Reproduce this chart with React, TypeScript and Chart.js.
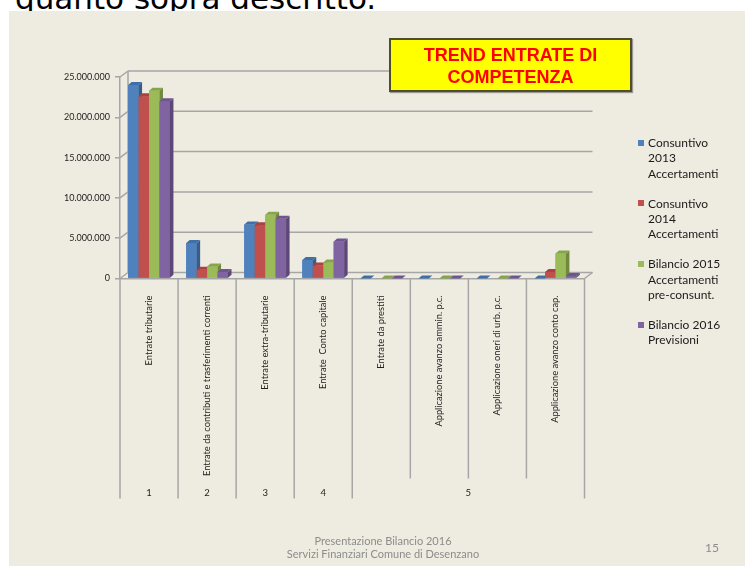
import React, { useEffect, useRef } from "react";
import { Chart, registerables } from "chart.js";

Chart.register(...registerables);

// ---------- DATA ----------
const categories = [
  "Entrate tributarie",
  "Entrate da contributi e trasferimenti correnti",
  "Entrate extra-tributarie",
  "Entrate  Conto capitale",
  "Entrate da prestiti",
  "Applicazione avanzo ammin. p.c.",
  "Applicazione oneri di urb. p.c.",
  "Applicazione avanzo conto cap.",
];
const groupLabels = ["1", "2", "3", "4", "5"];
const groupSpans = [1, 1, 1, 1, 4];

const consuntivo2013 = [24000000, 4400000, 6700000, 2300000, 0, 0, 0, 0];
const consuntivo2014 = [22600000, 1100000, 6600000, 1600000, null, null, null, 800000];
const bilancio2015 = [23300000, 1500000, 7900000, 2000000, 0, 0, 0, 3100000];
const bilancio2016 = [22000000, 800000, 7400000, 4600000, 0, 0, 0, 300000];

const yTicks = [0, 5000000, 10000000, 15000000, 20000000, 25000000];

const seriesLabels = [
  ["Consuntivo", "2013", "Accertamenti"],
  ["Consuntivo", "2014", "Accertamenti"],
  ["Bilancio 2015", "Accertamenti", "pre-consunt."],
  ["Bilancio 2016", "Previsioni"],
];
const seriesData = [consuntivo2013, consuntivo2014, bilancio2015, bilancio2016];
const frontColors = ["#4F81BD", "#C0504D", "#9BBB59", "#8064A2"];
const sideColors = ["#385D8A", "#8C3836", "#71893F", "#5C4776"];
const topColors = ["#3F6FA8", "#A94240", "#86A448", "#6E5590"];

const titleLines = ["TREND ENTRATE DI", "COMPETENZA"];
const footerLines = ["Presentazione Bilancio 2016", "Servizi Finanziari Comune di Desenzano"];
const pageNumber = "15";
const headerText = "quanto sopra descritto.";

// ---------- helpers ----------
const fmt = (v: number) => String(v).replace(/\B(?=(\d{3})+(?!\d))/g, ".");

const GRID = "#A6A6A6";
const DX = 8;
const DY = -6;

const frame3d = {
  id: "frame3d",
  beforeDatasetsDraw(chart: any) {
    const { ctx, chartArea } = chart;
    const { left, right, top, bottom } = chartArea;
    const y = chart.scales.y;
    ctx.save();
    ctx.strokeStyle = GRID;
    ctx.lineWidth = 1.5;
    const line = (a: number, b: number, c: number, d: number) => {
      ctx.beginPath();
      ctx.moveTo(a, b);
      ctx.lineTo(c, d);
      ctx.stroke();
    };
    for (const v of yTicks) {
      const py = y.getPixelForValue(v);
      line(left + DX, py + DY, right + DX, py + DY);
      line(left, py, left + DX, py + DY);
    }
    line(left + DX, top + DY, left + DX, bottom + DY);
    line(right, bottom, right + DX, bottom + DY);
    ctx.restore();
  },
  afterDatasetsDraw(chart: any) {
    const { ctx } = chart;
    const d = 3.5;
    const dy = -3;
    ctx.save();
    chart.data.datasets.forEach((ds: any, di: number) => {
      const meta = chart.getDatasetMeta(di);
      meta.data.forEach((el: any, i: number) => {
        const v = ds.data[i];
        if (v === null || v === undefined) return;
        const p = el.getProps(["x", "y", "base", "width"], true);
        const l = p.x - p.width / 2;
        const r = p.x + p.width / 2;
        // front face (re-painted so that later series overlap earlier sides)
        ctx.fillStyle = frontColors[di];
        ctx.fillRect(l, p.y, p.width, p.base - p.y);
        // right side
        ctx.fillStyle = sideColors[di];
        ctx.beginPath();
        ctx.moveTo(r, p.y);
        ctx.lineTo(r + d, p.y + dy);
        ctx.lineTo(r + d, p.base + dy);
        ctx.lineTo(r, p.base);
        ctx.closePath();
        ctx.fill();
        // top cap
        ctx.fillStyle = topColors[di];
        ctx.beginPath();
        ctx.moveTo(l, p.y);
        ctx.lineTo(r, p.y);
        ctx.lineTo(r + d, p.y + dy);
        ctx.lineTo(l + d, p.y + dy);
        ctx.closePath();
        ctx.fill();
      });
    });
    ctx.restore();
  },
  afterDraw(chart: any) {
    const { ctx, chartArea } = chart;
    const x = chart.scales.x;
    const bottom = chartArea.bottom;
    ctx.save();
    ctx.strokeStyle = GRID;
    ctx.lineWidth = 1.5;
    const groupBounds = new Set<number>();
    let acc = 0;
    groupBounds.add(0);
    groupSpans.forEach((s) => {
      acc += s;
      groupBounds.add(acc);
    });
    for (let i = 0; i <= categories.length; i++) {
      const px = x.getPixelForValue(i - 0.5);
      const len = groupBounds.has(i) ? 220 : 200;
      ctx.beginPath();
      ctx.moveTo(px, bottom);
      ctx.lineTo(px, bottom + len);
      ctx.stroke();
    }
    ctx.fillStyle = "#222";
    ctx.font = "9.5px Lato";
    ctx.textAlign = "center";
    ctx.textBaseline = "middle";
    let start = 0;
    groupLabels.forEach((g, gi) => {
      const end = start + groupSpans[gi];
      const cx = (x.getPixelForValue(start - 0.5) + x.getPixelForValue(end - 0.5)) / 2;
      ctx.fillText(g, cx, bottom + 214);
      start = end;
    });
    ctx.restore();
  },
};

export default function App() {
  const canvasRef = useRef<HTMLCanvasElement | null>(null);

  useEffect(() => {
    if (!canvasRef.current) return;
    Chart.defaults.font.family = "Lato";
    const chart = new Chart(canvasRef.current, {
      type: "bar",
      data: {
        labels: categories,
        datasets: seriesData.map((data, i) => ({
          label: seriesLabels[i].join(" "),
          data,
          backgroundColor: frontColors[i],
          borderWidth: 0,
          categoryPercentage: 0.72,
          barPercentage: 1.0,
        })),
      },
      options: {
        animation: false,
        responsive: false,
        layout: { padding: { left: 0, right: 160.5, top: 77, bottom: 67.5 } },
        plugins: {
          legend: { display: false },
          tooltip: { enabled: false },
          title: { display: false },
        },
        scales: {
          x: {
            type: "category",
            offset: true,
            grid: { display: false },
            border: { display: true, color: GRID, width: 1.5 },
            ticks: {
              autoSkip: false,
              maxRotation: 90,
              minRotation: 90,
              padding: 9,
              color: "#222",
              font: { family: "Lato", size: 9.3 },
            },
            afterFit: (scale: any) => {
              scale.height = 220;
            },
          },
          y: {
            min: 0,
            max: 25000000,
            grid: {
              display: true,
              drawOnChartArea: false,
              drawTicks: true,
              tickLength: 5,
              color: GRID,
              lineWidth: 1.5,
            },
            border: { display: true, color: GRID, width: 1.5 },
            afterBuildTicks: (scale: any) => {
              scale.ticks = yTicks.map((v) => ({ value: v }));
            },
            ticks: {
              padding: 5,
              color: "#222",
              font: { family: "Lato", size: 9 },
              callback: (v: any) => fmt(Number(v)),
            },
            afterFit: (scale: any) => {
              scale.width = 120;
            },
          },
        },
      },
      plugins: [frame3d],
    });
    return () => chart.destroy();
  }, []);

  return (
    <div
      style={{
        position: "fixed",
        left: 0,
        top: 0,
        width: 745,
        height: 566,
        background: "#FFFFFF",
        overflow: "hidden",
      }}
    >
      <div
        style={{
          position: "absolute",
          left: 15,
          top: -17,
          fontFamily: "'DejaVu Sans', Verdana, sans-serif",
          fontSize: 31,
          lineHeight: "31px",
          color: "#000",
          whiteSpace: "nowrap",
        }}
      >
        {headerText}
      </div>
      <div
        style={{
          position: "absolute",
          left: 9,
          top: 11,
          width: 736,
          height: 555,
          background: "#EEECE1",
        }}
      />
      <canvas
        ref={canvasRef}
        width={745}
        height={566}
        style={{ position: "absolute", left: 0, top: 0, width: 745, height: 566 }}
      />
      <div
        style={{
          position: "absolute",
          left: 389,
          top: 38,
          width: 243,
          height: 54,
          boxSizing: "border-box",
          background: "#FFFF00",
          border: "2px solid #505026",
          boxShadow: "1px 1px 1px rgba(0,0,0,0.35)",
          display: "flex",
          flexDirection: "column",
          alignItems: "center",
          justifyContent: "center",
          fontFamily: "'Liberation Sans', Arial, sans-serif",
          fontWeight: "bold",
          fontSize: 18,
          lineHeight: "22.5px",
          color: "#FF0000",
          paddingTop: 2,
        }}
      >
        {titleLines.map((t) => (
          <div key={t}>{t}</div>
        ))}
      </div>
      <div
        style={{
          position: "absolute",
          left: 638,
          top: 135,
          fontFamily: "Lato, sans-serif",
          fontSize: 12,
          lineHeight: "15.3px",
          color: "#1a1a1a",
        }}
      >
        {seriesLabels.map((lines, i) => (
          <div key={i} style={{ display: "flex", marginBottom: 14.8 }}>
            <div
              style={{
                width: 6,
                height: 6,
                background: frontColors[i],
                marginTop: 4.6,
                marginRight: 4,
                flex: "0 0 auto",
              }}
            />
            <div>
              {lines.map((l) => (
                <div key={l}>{l}</div>
              ))}
            </div>
          </div>
        ))}
      </div>
      <div
        style={{
          position: "absolute",
          left: 233,
          top: 533.5,
          width: 300,
          textAlign: "center",
          fontFamily: "Lato, sans-serif",
          fontSize: 11,
          lineHeight: "13px",
          color: "#8C8C8C",
        }}
      >
        {footerLines.map((l) => (
          <div key={l}>{l}</div>
        ))}
      </div>
      <div
        style={{
          position: "absolute",
          left: 692,
          top: 540,
          width: 40,
          textAlign: "center",
          fontFamily: "Lato, sans-serif",
          fontSize: 12,
          lineHeight: "16px",
          color: "#8C8C8C",
        }}
      >
        {pageNumber}
      </div>
    </div>
  );
}
